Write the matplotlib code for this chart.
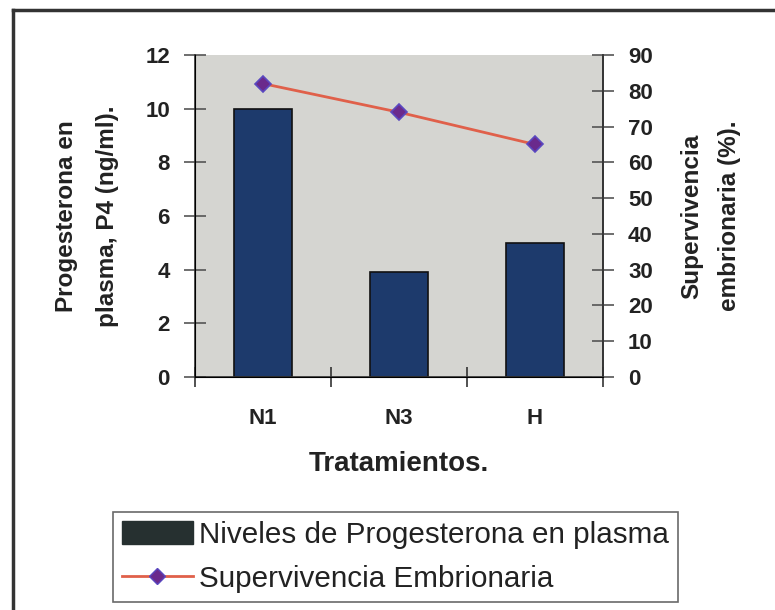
import numpy as np
import matplotlib
matplotlib.use('Agg')
import matplotlib.pyplot as plt
from matplotlib.lines import Line2D
from matplotlib.patches import Patch

plt.rcParams['font.family'] = ['Liberation Sans', 'DejaVu Sans']

# datos
tratamientos = ['N1', 'N3', 'H']
progesterona = [10.0, 3.9, 5.0]        # ng/ml, eje izquierdo
supervivencia = [82, 74, 65]          # %, eje derecho

x = np.arange(len(tratamientos))

fig = plt.figure(figsize=(7.75, 6.10), dpi=100)
ax = fig.add_axes([195/775, 1-377/610, 408/775, 322/610])
ax.set_facecolor('#d5d5d1')

ax.bar(x, progesterona, width=0.43, color='#1d3a6c', edgecolor='#111111', linewidth=1.2, zorder=2)
ax.set_xlim(-0.5, 2.5)
ax.set_ylim(0, 12)
ax.set_yticks(np.arange(0, 13, 2))
ax.set_xticks(x)
ax.set_xticklabels(tratamientos)
ax.set_xticks([-0.5, 0.5, 1.5, 2.5], minor=True)
ax.tick_params(axis='x', which='major', length=0, pad=22, labelsize=16)
ax.tick_params(axis='x', which='minor', direction='inout', length=14, width=1.2, color='#333333')
ax.tick_params(axis='y', direction='inout', length=16, width=1.2, color='#555555', labelsize=16, pad=10)

ax.spines['top'].set_visible(False)
for s in ['left', 'right', 'bottom']:
    ax.spines[s].set_color('#333333')
    ax.spines[s].set_linewidth(1.2)

ax.set_xlabel('Tratamientos.', fontsize=20, fontweight='bold', labelpad=16, color='#222222')
ax.set_ylabel('Progesterona en\nplasma, P4 (ng/ml).', fontsize=17.5, fontweight='bold',
              linespacing=2.0, labelpad=19, color='#222222')

ax2 = ax.twinx()
ax2.plot(x, supervivencia, color='#e0604a', linewidth=2, marker='D', markersize=8,
         markerfacecolor='#6a2a8c', markeredgecolor='#5a48c0', markeredgewidth=1.2, zorder=3)
ax2.set_ylim(0, 90)
ax2.set_yticks(np.arange(0, 91, 10))
ax2.tick_params(axis='y', direction='inout', length=16, width=1.2, color='#555555', labelsize=16, pad=10)
ax2.spines['top'].set_visible(False)
ax2.spines['right'].set_color('#333333')
ax2.spines['right'].set_linewidth(1.2)
ax2.set_ylabel('Supervivencia\nembrionaria (%).', fontsize=17.5, fontweight='bold',
               linespacing=1.8, labelpad=20, color='#222222')

for a in (ax, ax2):
    for t in a.get_yticklabels() + a.get_xticklabels():
        t.set_color('#222222')
        t.set_fontweight('bold')

# leyenda
h1 = Patch(facecolor='#263030', edgecolor='#263030')
h2 = Line2D([], [], color='#e0604a', linewidth=2, marker='D', markersize=8,
            markerfacecolor='#6a2a8c', markeredgecolor='#5a48c0')
leg = fig.legend([h1, h2], ['Niveles de Progesterona en plasma', 'Supervivencia Embrionaria'],
                 loc='upper left', bbox_to_anchor=(113/775, 1-512/610), bbox_transform=fig.transFigure,
                 fontsize=21.3, frameon=True, fancybox=False, edgecolor='#444444',
                 handlelength=2.4, handleheight=0.8, handletextpad=0.2, labelspacing=0.55,
                 borderpad=0.3, borderaxespad=0)
leg.get_frame().set_linewidth(1.2)
for t in leg.get_texts():
    t.set_color('#222222')

# marco exterior del grafico
fig.add_artist(Line2D([13/775, 13/775], [0, 1-10/610], transform=fig.transFigure, color='#333333', lw=2.5))
fig.add_artist(Line2D([13/775, 1], [1-10/610, 1-10/610], transform=fig.transFigure, color='#333333', lw=2.5))

fig.savefig('out.png', dpi=100)
